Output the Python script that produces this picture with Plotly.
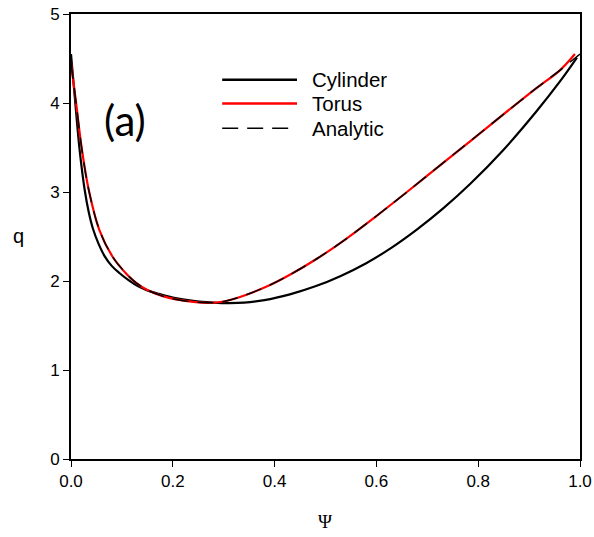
import plotly.graph_objects as go

# ---- data ----
psi_cyl = [0.000, 0.008, 0.017, 0.027, 0.035, 0.043, 0.054, 0.066, 0.080, 0.095,
           0.113, 0.132, 0.150, 0.170, 0.200, 0.240, 0.280, 0.310, 0.340, 0.380,
           0.430, 0.480, 0.530, 0.580, 0.630, 0.680, 0.730, 0.784, 0.849, 0.915,
           0.961, 0.994]
q_cyl = [4.55, 4.03, 3.47, 3.02, 2.77, 2.59, 2.42, 2.28, 2.17, 2.09,
         2.01, 1.94, 1.895, 1.86, 1.815, 1.777, 1.758, 1.752, 1.757, 1.785,
         1.85, 1.94, 2.057, 2.20, 2.375, 2.58, 2.81, 3.09, 3.47, 3.91,
         4.245, 4.51]

psi_tor = [0.000, 0.010, 0.0216, 0.035, 0.056, 0.082, 0.109, 0.128, 0.150, 0.180,
           0.210, 0.240, 0.270, 0.300, 0.332, 0.391, 0.430, 0.483, 0.542, 0.600,
           0.660, 0.725, 0.784, 0.862, 0.915, 0.961, 0.990]
q_tor = [4.45, 4.00, 3.47, 3.02, 2.57, 2.27, 2.08, 1.98, 1.90, 1.83,
         1.79, 1.765, 1.755, 1.77, 1.82, 1.955, 2.07, 2.25, 2.48, 2.73,
         3.00, 3.30, 3.57, 3.93, 4.17, 4.37, 4.55]

psi_ana = [0.000, 0.010, 0.0216, 0.035, 0.056, 0.082, 0.109, 0.128, 0.150, 0.180,
           0.210, 0.240, 0.270, 0.300, 0.332, 0.391, 0.430, 0.483, 0.542, 0.600,
           0.660, 0.725, 0.784, 0.862, 0.915, 0.961, 1.000]
q_ana = [4.45, 4.00, 3.47, 3.02, 2.57, 2.27, 2.08, 1.98, 1.90, 1.83,
         1.79, 1.765, 1.755, 1.77, 1.82, 1.955, 2.07, 2.25, 2.48, 2.73,
         3.00, 3.30, 3.57, 3.93, 4.17, 4.37, 4.55]

series_names = ["Cylinder", "Torus", "Analytic"]
x_ticks = [0.0, 0.2, 0.4, 0.6, 0.8, 1.0]
y_ticks = [0, 1, 2, 3, 4, 5]

SMOOTH = 1.0
fig = go.Figure()
fig.add_trace(go.Scatter(x=psi_cyl, y=q_cyl, mode="lines", name=series_names[0],
                         line=dict(color="black", width=2.2, shape="spline", smoothing=SMOOTH),
                         showlegend=False))
fig.add_trace(go.Scatter(x=psi_tor, y=q_tor, mode="lines", name=series_names[1],
                         line=dict(color="#ff0000", width=2.2, shape="spline", smoothing=SMOOTH),
                         showlegend=False))
fig.add_trace(go.Scatter(x=psi_ana, y=q_ana, mode="lines", name=series_names[2],
                         line=dict(color="black", width=1.5, dash="16px,9px",
                                   shape="spline", smoothing=SMOOTH),
                         showlegend=False))

# manual legend (long sample lines as in the reference)
leg_rows = [0.852, 0.799, 0.743]
leg_styles = [dict(color="black", width=2.5),
              dict(color="#ff0000", width=2.5),
              dict(color="black", width=1.5, dash="16px,9px")]
shapes = []
annotations = []
for name, yy, st in zip(series_names, leg_rows, leg_styles):
    shapes.append(dict(type="line", xref="paper", yref="paper",
                       x0=0.297, x1=0.444, y0=yy, y1=yy, line=st))
    annotations.append(dict(xref="paper", yref="paper", x=0.470, y=yy,
                            xanchor="left", yanchor="middle", showarrow=False,
                            text=name, font=dict(family="Liberation Sans, Arial", size=20.5, color="black")))

# plot area in page pixels: x 71..580, y 14..459
annotations.append(dict(xref="paper", yref="paper", x=(124.5 - 71) / 509, y=(459 - 120) / 445,
                        xanchor="center", yanchor="middle", showarrow=False, text="(a)",
                        font=dict(family="Lato, Open Sans", size=42, color="black")))
annotations.append(dict(xref="paper", yref="paper", x=(18 - 71) / 509, y=(459 - 236) / 445,
                        xanchor="center", yanchor="middle", showarrow=False, text="q",
                        font=dict(family="Liberation Sans, Arial", size=20, color="black")))
annotations.append(dict(xref="paper", yref="paper", x=(325 - 71) / 509, y=(459 - 521) / 445,
                        xanchor="center", yanchor="middle", showarrow=False, text="Ψ",
                        font=dict(family="Liberation Serif, DejaVu Serif", size=19, color="black")))

fig.update_layout(
    width=594, height=537,
    margin=dict(l=71, r=14, t=14, b=78),
    paper_bgcolor="white", plot_bgcolor="white",
    shapes=shapes, annotations=annotations,
    font=dict(family="Liberation Sans, Arial", size=17, color="black"),
)
fig.update_xaxes(range=[0, 1], tickvals=x_ticks, ticktext=[f"{v:.1f}" for v in x_ticks],
                 showgrid=False, zeroline=False, showline=True, linecolor="black", linewidth=1.6,
                 mirror=True, ticks="outside", ticklen=6, tickwidth=1.3, tickcolor="black",
                 tickfont=dict(size=17), ticklabeloverflow="allow", automargin=False)
fig.update_yaxes(range=[0, 5], tickvals=y_ticks, ticktext=[str(v) for v in y_ticks],
                 showgrid=False, zeroline=False, showline=True, linecolor="black", linewidth=1.6,
                 mirror=True, ticks="outside", ticklen=6, tickwidth=1.3, tickcolor="black",
                 tickfont=dict(size=17), ticklabeloverflow="allow", automargin=False)

# remove the default 8px page margin so the 594x537 figure fills the window exactly
fig.write_html("out.html", config={"displayModeBar": False},
               post_script="document.body.style.margin='0';")
